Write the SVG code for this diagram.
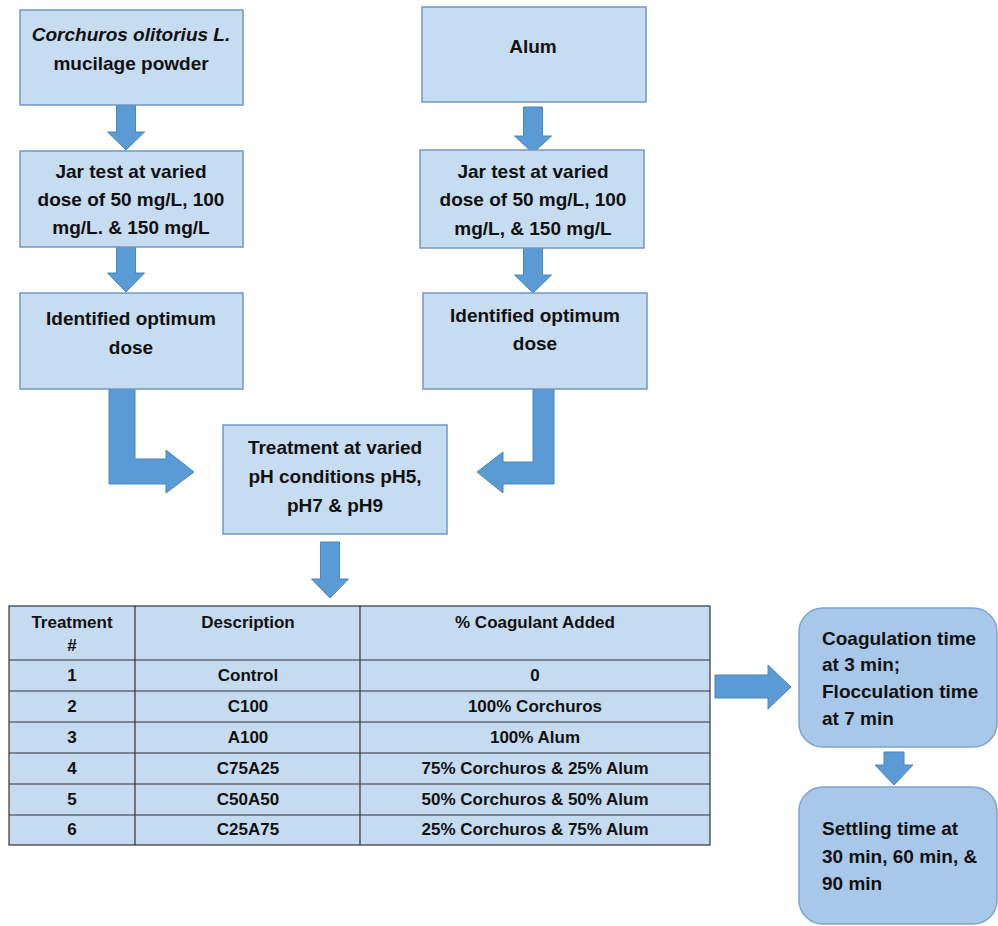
<svg xmlns="http://www.w3.org/2000/svg" width="998" height="926" viewBox="0 0 998 926">
<style>
.box{fill:#C6DCF0;stroke:#7398C4;stroke-width:1.5}
.rbox{fill:#A8C8E9;stroke:#7FA3CB;stroke-width:1.5}
.arr{fill:#5B9BD5;stroke:#4A86BF;stroke-width:1}
.t{font-family:"Liberation Sans",Arial,sans-serif;font-weight:bold;font-size:19px;fill:#111;text-anchor:middle}
.tl{font-family:"Liberation Sans",Arial,sans-serif;font-weight:bold;font-size:19px;fill:#111}
.tt{font-family:"Liberation Sans",Arial,sans-serif;font-weight:bold;font-size:17px;fill:#111;text-anchor:middle}
.cell{fill:#C5DBF0;stroke:#333;stroke-width:1.2}
</style>
<rect width="998" height="926" fill="#fff"/>
<g id="connectors">
<polygon class="arr" points="116.5,105 135.5,105 135.5,132 144.5,132 126,150 107.5,132 116.5,132"/>
<polygon class="arr" points="116.5,247 135.5,247 135.5,273 144.5,273 126,292 107.5,273 116.5,273"/>
<polygon class="arr" points="523.5,107 542.5,107 542.5,136 551.5,136 533,153 514.5,136 523.5,136"/>
<polygon class="arr" points="523.5,248 542.5,248 542.5,275 551.5,275 533,293 514.5,275 523.5,275"/>
<polygon class="arr" points="109,389 135,389 135,459 166,459 166,450 194,472 166,493 166,484 109,484"/>
<polygon class="arr" points="533,389 554,389 554,484 503,484 503,493 477,472 503,452 503,462 533,462"/>
<polygon class="arr" points="320.5,542 339.5,542 339.5,579 348.5,579 330,598 311.5,579 320.5,579"/>
<polygon class="arr" points="715,675 768,675 768,665 791,687 768,709 768,698 715,698"/>
<polygon class="arr" points="884,752 904,752 904,765 913,765 894,785 875,765 884,765"/>
</g>
<g id="n-corchorus">
<rect class="box" x="20" y="10" width="223" height="95"/>
<text class="t" x="131" y="41"><tspan font-style="italic">Corchuros olitorius L.</tspan></text>
<text class="t" x="131" y="70">mucilage powder</text>
</g>
<g id="n-jar-left">
<rect class="box" x="20" y="151" width="223" height="96"/>
<text class="t" x="131" y="178">Jar test at varied</text>
<text class="t" x="131" y="206">dose of 50 mg/L, 100</text>
<text class="t" x="131" y="234">mg/L. &amp; 150 mg/L</text>
</g>
<g id="n-opt-left">
<rect class="box" x="20" y="293" width="223" height="96"/>
<text class="t" x="131" y="325">Identified optimum</text>
<text class="t" x="131" y="354">dose</text>
</g>
<g id="n-alum">
<rect class="box" x="422" y="7" width="224" height="95"/>
<text class="t" x="533" y="53">Alum</text>
</g>
<g id="n-jar-right">
<rect class="box" x="420" y="150" width="224" height="98"/>
<text class="t" x="533" y="178">Jar test at varied</text>
<text class="t" x="533" y="206">dose of 50 mg/L, 100</text>
<text class="t" x="533" y="235">mg/L, &amp; 150 mg/L</text>
</g>
<g id="n-opt-right">
<rect class="box" x="423" y="293" width="224" height="96"/>
<text class="t" x="535" y="322">Identified optimum</text>
<text class="t" x="535" y="350">dose</text>
</g>
<g id="n-treatment">
<rect class="box" x="223" y="425" width="224" height="109"/>
<text class="t" x="335" y="454">Treatment at varied</text>
<text class="t" x="335" y="483">pH conditions pH5,</text>
<text class="t" x="335" y="512">pH7 &amp; pH9</text>
</g>
<g id="n-table">
<rect class="cell" x="9" y="606" width="701" height="239"/>
<line x1="9" y1="660" x2="710" y2="660" stroke="#333" stroke-width="1.2"/>
<line x1="9" y1="691" x2="710" y2="691" stroke="#333" stroke-width="1.2"/>
<line x1="9" y1="722" x2="710" y2="722" stroke="#333" stroke-width="1.2"/>
<line x1="9" y1="753" x2="710" y2="753" stroke="#333" stroke-width="1.2"/>
<line x1="9" y1="784" x2="710" y2="784" stroke="#333" stroke-width="1.2"/>
<line x1="9" y1="815" x2="710" y2="815" stroke="#333" stroke-width="1.2"/>
<line x1="135" y1="606" x2="135" y2="845" stroke="#333" stroke-width="1.2"/>
<line x1="360" y1="606" x2="360" y2="845" stroke="#333" stroke-width="1.2"/>
<text class="tt" x="72" y="628">Treatment</text>
<text class="tt" x="72" y="651">#</text>
<text class="tt" x="248" y="628">Description</text>
<text class="tt" x="535" y="628">% Coagulant Added</text>
<text class="tt" x="72" y="681">1</text><text class="tt" x="248" y="681">Control</text><text class="tt" x="535" y="681">0</text>
<text class="tt" x="72" y="712">2</text><text class="tt" x="248" y="712">C100</text><text class="tt" x="535" y="712">100% Corchuros</text>
<text class="tt" x="72" y="743">3</text><text class="tt" x="248" y="743">A100</text><text class="tt" x="535" y="743">100% Alum</text>
<text class="tt" x="72" y="774">4</text><text class="tt" x="248" y="774">C75A25</text><text class="tt" x="535" y="774">75% Corchuros &amp; 25% Alum</text>
<text class="tt" x="72" y="805">5</text><text class="tt" x="248" y="805">C50A50</text><text class="tt" x="535" y="805">50% Corchuros &amp; 50% Alum</text>
<text class="tt" x="72" y="835">6</text><text class="tt" x="248" y="835">C25A75</text><text class="tt" x="535" y="835">25% Corchuros &amp; 75% Alum</text>
</g>
<g id="n-coag">
<rect class="rbox" x="799" y="608" width="198" height="139" rx="24"/>
<text class="tl" x="822" y="645">Coagulation time</text>
<text class="tl" x="822" y="671">at 3 min;</text>
<text class="tl" x="822" y="698">Flocculation time</text>
<text class="tl" x="822" y="725">at 7 min</text>
</g>
<g id="n-settling">
<rect class="rbox" x="799" y="787" width="198" height="137" rx="24"/>
<text class="tl" x="822" y="835">Settling time at</text>
<text class="tl" x="822" y="863">30 min, 60 min, &amp;</text>
<text class="tl" x="822" y="890">90 min</text>
</g>
</svg>
